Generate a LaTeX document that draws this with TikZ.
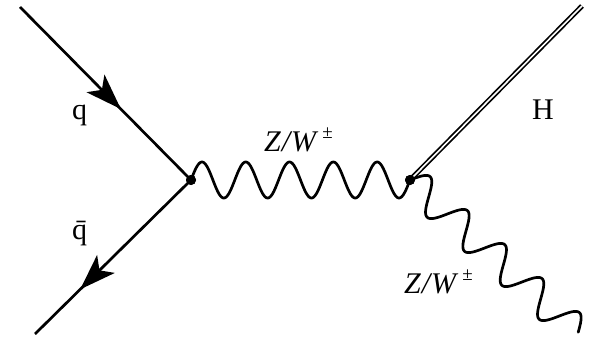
\documentclass[tikz,border=0pt]{standalone}
\usepackage{fontspec}
\setmainfont{Liberation Serif}
\usetikzlibrary{arrows.meta,decorations.markings,calc}
\tikzset{qtip/.tip={Stealth[length=36pt,width=25pt,inset=9pt]}}
\begin{document}
\begin{tikzpicture}[x=1pt,y=-1pt,
  fermion/.style={line width=2.7pt},
  boson/.style={line width=2.7pt,line join=round,line cap=round},
  higgs/.style={line width=1.7pt,double=white,double distance=1.6pt},
  vtx/.style={circle,fill=black,inner sep=0pt,minimum size=10pt},
  lbl/.style={anchor=base west,inner sep=0pt,font=\fontsize{30}{34}\selectfont}]
\useasboundingbox (0,0) rectangle (590,337);
\node[vtx] (v1) at (191,180) {};
\node[vtx] (v2) at (410,180) {};
\coordinate (qin) at (20,7);
\coordinate (qout) at (35,334);
\coordinate (hout) at (582,6);
\coordinate (zout) at (578,333);
\draw[fermion,postaction={decorate},decoration={markings,mark=at position 0.59 with {\arrow{qtip}}}] (qin) -- (v1.center);
\draw[fermion,postaction={decorate},decoration={markings,mark=at position 0.71 with {\arrow{qtip}}}] (v1.center) -- (qout);
\draw[boson] let \p1=(v1.center), \p2=(v2.center), \n1={veclen(\x2-\x1,\y2-\y1)} in
  plot[variable=\t, domain=0:1, samples=400]
  ({\x1+\t*(\x2-\x1)-18*sin(360*5*\t)*(\y2-\y1)/\n1},
   {\y1+\t*(\y2-\y1)+18*sin(360*5*\t)*(\x2-\x1)/\n1});
\draw[higgs] (v2.center) -- (hout);
\draw[boson] let \p1=(v2.center), \p2=(zout), \n1={veclen(\x2-\x1,\y2-\y1)} in
  plot[variable=\t, domain=0:1, samples=400]
  ({\x1+\t*(\x2-\x1)-16*sin(360*4.5*\t)*(\y2-\y1)/\n1},
   {\y1+\t*(\y2-\y1)+16*sin(360*4.5*\t)*(\x2-\x1)/\n1});
\node[vtx] at (v1) {};
\node[vtx] at (v2) {};
\node[lbl] (lq) at (72,120) {q};
\node[lbl] (lqb) at (72,240) {q̄};
\node[lbl] (lz1) at (264,151) {\textit{Z\kern1pt/\kern1pt W}\kern4pt\raisebox{0.42em}{\fontsize{19}{19}\selectfont ±}};
\node[lbl] (lh) at (532,120) {H};
\node[lbl] (lz2) at (404,293) {\textit{Z\kern1pt/\kern1pt W}\kern4pt\raisebox{0.42em}{\fontsize{19}{19}\selectfont ±}};
\end{tikzpicture}
\end{document}
